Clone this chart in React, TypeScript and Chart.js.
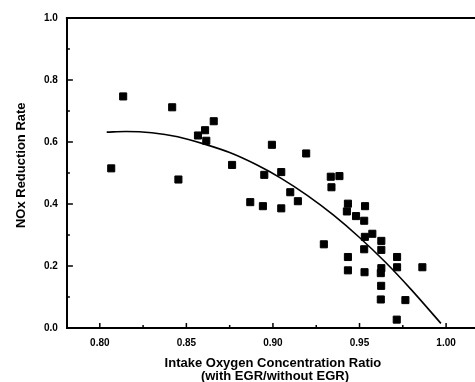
import React, { useEffect, useRef } from 'react';
import { Chart, registerables } from 'chart.js';
Chart.register(...registerables);

const xTickValues = [0.8, 0.85, 0.9, 0.95, 1.0];
const xMinorTickValues = [0.825, 0.875, 0.925, 0.975];
const yTickValues = [0.0, 0.2, 0.4, 0.6, 0.8, 1.0];
const yMinorTickValues = [0.1, 0.3, 0.5, 0.7, 0.9];
const xTitleLines = ['Intake Oxygen Concentration Ratio', '(with EGR/without EGR)'];
const yTitle = 'NOx Reduction Rate';

const measuredX = [
  0.8066, 0.8135, 0.8418, 0.8454, 0.8567, 0.8608, 0.8615, 0.8658, 0.8764, 0.8869,
  0.8942, 0.895, 0.8994, 0.9048, 0.9048, 0.91, 0.9144, 0.9192, 0.9294, 0.9334,
  0.9338, 0.9384, 0.9427, 0.9433, 0.9433, 0.9433, 0.948, 0.9527, 0.9532, 0.9531,
  0.9527, 0.9529, 0.9574, 0.9626, 0.9626, 0.9626, 0.9623, 0.9625, 0.9623, 0.9717,
  0.9717, 0.9715, 0.9765, 0.9863,
];
const measuredY = [
  0.515, 0.747, 0.712, 0.479, 0.621, 0.638, 0.604, 0.667, 0.526, 0.406,
  0.393, 0.494, 0.591, 0.503, 0.386, 0.438, 0.409, 0.563, 0.27, 0.488,
  0.454, 0.49, 0.376, 0.401, 0.229, 0.186, 0.361, 0.346, 0.393, 0.294,
  0.254, 0.18, 0.304, 0.281, 0.252, 0.193, 0.177, 0.136, 0.092, 0.229,
  0.196, 0.027, 0.09, 0.196,
];

const fitX = [0.804, 0.815, 0.83, 0.845, 0.86, 0.875, 0.89, 0.905, 0.92, 0.935, 0.95, 0.965, 0.98, 0.997];
const fitY = [0.632, 0.634, 0.63, 0.617, 0.594, 0.566, 0.528, 0.482, 0.427, 0.364, 0.292, 0.212, 0.123, 0.015];

const X_MIN = 0.781;
const X_MAX = 1.0167;

const FONT = '"Liberation Sans", Arial, sans-serif';

const ticksPlugin = {
  id: 'manualTicks',
  afterDraw(chart: any) {
    const ctx = chart.ctx;
    const xs = chart.scales.x;
    const ys = chart.scales.y;
    const area = chart.chartArea;
    ctx.save();
    ctx.strokeStyle = '#000';
    ctx.lineWidth = 2;
    ctx.beginPath();
    ctx.moveTo(area.left - 1, area.top);
    ctx.lineTo(area.right, area.top);
    ctx.stroke();
    ctx.lineWidth = 1.5;
    const drawY = (vals: number[], len: number) => {
      vals.forEach((v) => {
        const p = ys.getPixelForValue(v);
        ctx.beginPath();
        ctx.moveTo(area.left, p);
        ctx.lineTo(area.left + len, p);
        ctx.stroke();
      });
    };
    const drawX = (vals: number[], len: number) => {
      vals.forEach((v) => {
        const p = xs.getPixelForValue(v);
        ctx.beginPath();
        ctx.moveTo(p, area.bottom);
        ctx.lineTo(p, area.bottom - len);
        ctx.stroke();
      });
    };
    drawY(yTickValues, 6);
    drawY(yMinorTickValues, 3);
    drawX(xTickValues, 5);
    drawX(xMinorTickValues, 3);
    // axis titles
    ctx.fillStyle = '#000';
    ctx.font = `bold 13px ${FONT}`;
    ctx.textAlign = 'center';
    ctx.textBaseline = 'middle';
    const cx = xs.getPixelForValue(0.9);
    ctx.fillText(xTitleLines[0], cx, area.bottom + 35);
    ctx.fillText(xTitleLines[1], cx + 2, area.bottom + 48);
    ctx.translate(area.left - 45, ys.getPixelForValue(0.525));
    ctx.rotate(-Math.PI / 2);
    ctx.fillText(yTitle, 0, 0);
    ctx.restore();
  },
};

export default function App() {
  const ref = useRef<HTMLCanvasElement>(null);
  useEffect(() => {
    document.body.style.margin = '0';
    const chart = new Chart(ref.current as HTMLCanvasElement, {
      type: 'scatter',
      data: {
        datasets: [
          {
            type: 'line',
            data: fitX.map((x, i) => ({ x, y: fitY[i] })),
            borderColor: '#000',
            borderWidth: 1.6,
            pointRadius: 0,
            cubicInterpolationMode: 'monotone',
            fill: false,
          } as any,
          {
            data: measuredX.map((x, i) => ({ x, y: measuredY[i] })),
            pointStyle: 'rect',
            pointRadius: 5,
            backgroundColor: '#000',
            borderColor: '#000',
            borderWidth: 1,
          },
        ],
      },
      plugins: [ticksPlugin],
      options: {
        animation: false,
        responsive: false,
        layout: { autoPadding: false, padding: { top: 18, left: 35, right: 0, bottom: 24 } },
        plugins: { legend: { display: false }, tooltip: { enabled: false } },
        scales: {
          x: {
            type: 'linear',
            min: X_MIN,
            max: X_MAX,
            afterBuildTicks: (s: any) => {
              s.ticks = xTickValues.map((v) => ({ value: v }));
            },
            grid: { display: false, drawTicks: false },
            border: { display: true, color: '#000', width: 2 },
            ticks: {
              padding: 9,
              color: '#000',
              font: { family: FONT, size: 10, weight: 'bold' },
              callback: (v: any) => Number(v).toFixed(2),
            },
            title: { display: false },
          },
          y: {
            type: 'linear',
            min: 0,
            max: 1,
            afterBuildTicks: (s: any) => {
              s.ticks = yTickValues.map((v) => ({ value: v }));
            },
            grid: { display: false, drawTicks: false },
            border: { display: true, color: '#000', width: 2 },
            ticks: {
              padding: 9,
              color: '#000',
              font: { family: FONT, size: 10, weight: 'bold' },
              callback: (v: any) => Number(v).toFixed(1),
            },
            title: { display: false },
          },
        },
      },
    });
    return () => chart.destroy();
  }, []);
  return (
    <div style={{ width: 475, height: 382 }}>
      <canvas ref={ref} width={475} height={382} />
    </div>
  );
}
